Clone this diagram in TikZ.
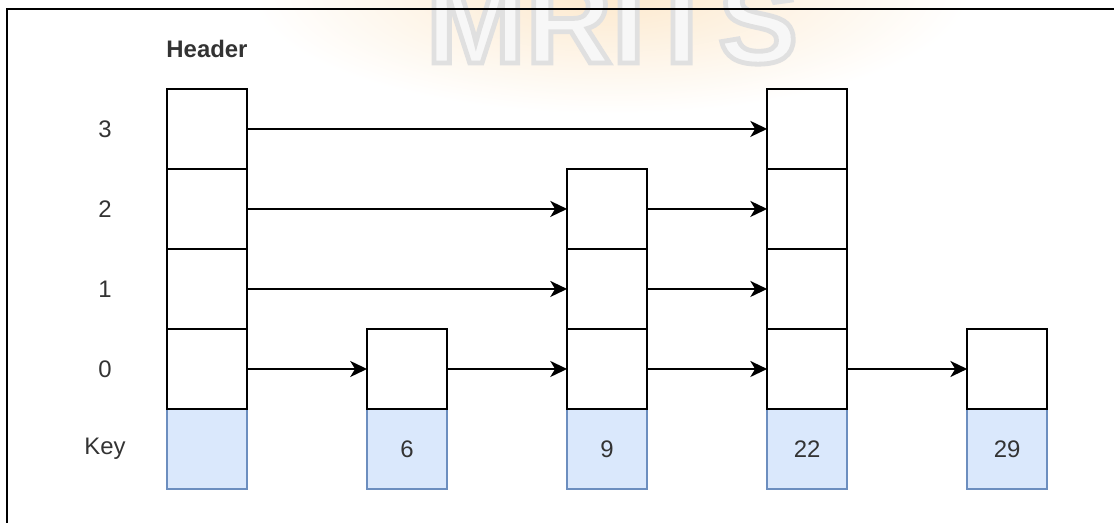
\documentclass[tikz,border=0pt]{standalone}
\usepackage{fontspec}
\setmainfont{Liberation Sans}
\usetikzlibrary{positioning,arrows.meta}
\definecolor{keyfill}{HTML}{DAE8FC}
\definecolor{keyline}{HTML}{6C8EBF}
\definecolor{stain}{HTML}{FCE8CC}
\begin{document}
\begin{tikzpicture}[
  x=0.025cm, y=-0.025cm,
  node distance=2cm,
  cell/.style={draw, line width=1.4pt, minimum size=2cm, inner sep=0pt, outer sep=0pt},
  keycell/.style={cell, draw=keyline, fill=keyfill, line width=1.1pt, text=black!80, font=\fontsize{17}{20}\selectfont},
  lbl/.style={font=\fontsize{17}{20}\selectfont, text=black!80},
  link/.style={-{Stealth[length=0.42cm, width=0.4cm, inset=0.12cm]}, line width=1.4pt}
]
\useasboundingbox (0,0) rectangle (1114,522);
% watermark
\shade[inner color=stain, outer color=white] (610,-10) ellipse [x radius=9cm, y radius=3.1cm];
\node[font=\fontsize{85}{90}\selectfont\bfseries, text=black!3, anchor=base, inner sep=0pt] (mark) at (612,63) {\special{pdf:code 0.88 G}\addfontfeature{FakeBold=4}MRITS};
\draw[line width=1.4pt] (7,9) rectangle (1140,540);
% keys
\node[keycell] (hdr-key) at (207,449) {};
\node[keycell, right=3cm of hdr-key] (n6-key) {6};
\node[keycell, right=3cm of n6-key] (n9-key) {9};
\node[keycell, right=3cm of n9-key] (n22-key) {22};
\node[keycell, right=3cm of n22-key] (n29-key) {29};
% levels
\node[cell, above of=hdr-key] (hdr-0) {};
\node[cell, above of=hdr-0] (hdr-1) {};
\node[cell, above of=hdr-1] (hdr-2) {};
\node[cell, above of=hdr-2] (hdr-3) {};
\node[cell, above of=n6-key] (n6-0) {};
\node[cell, above of=n9-key] (n9-0) {};
\node[cell, above of=n9-0] (n9-1) {};
\node[cell, above of=n9-1] (n9-2) {};
\node[cell, above of=n22-key] (n22-0) {};
\node[cell, above of=n22-0] (n22-1) {};
\node[cell, above of=n22-1] (n22-2) {};
\node[cell, above of=n22-2] (n22-3) {};
\node[cell, above of=n29-key] (n29-0) {};
% labels
\node[lbl, font=\fontsize{17}{20}\selectfont\bfseries, inner sep=0pt, above=0.78cm of hdr-3] (hdr-title) {Header};
\coordinate (lblcol) at (105,0);
\node[lbl] (lbl-3) at (lblcol |- hdr-3) {3};
\node[lbl] (lbl-2) at (lblcol |- hdr-2) {2};
\node[lbl] (lbl-1) at (lblcol |- hdr-1) {1};
\node[lbl] (lbl-0) at (lblcol |- hdr-0) {0};
\node[lbl] (lbl-key) at (lblcol |- hdr-key) {Key};
% pointers
\draw[link] (hdr-3) -- (n22-3);
\draw[link] (hdr-2) -- (n9-2);
\draw[link] (n9-2) -- (n22-2);
\draw[link] (hdr-1) -- (n9-1);
\draw[link] (n9-1) -- (n22-1);
\draw[link] (hdr-0) -- (n6-0);
\draw[link] (n6-0) -- (n9-0);
\draw[link] (n9-0) -- (n22-0);
\draw[link] (n22-0) -- (n29-0);
\end{tikzpicture}
\end{document}
